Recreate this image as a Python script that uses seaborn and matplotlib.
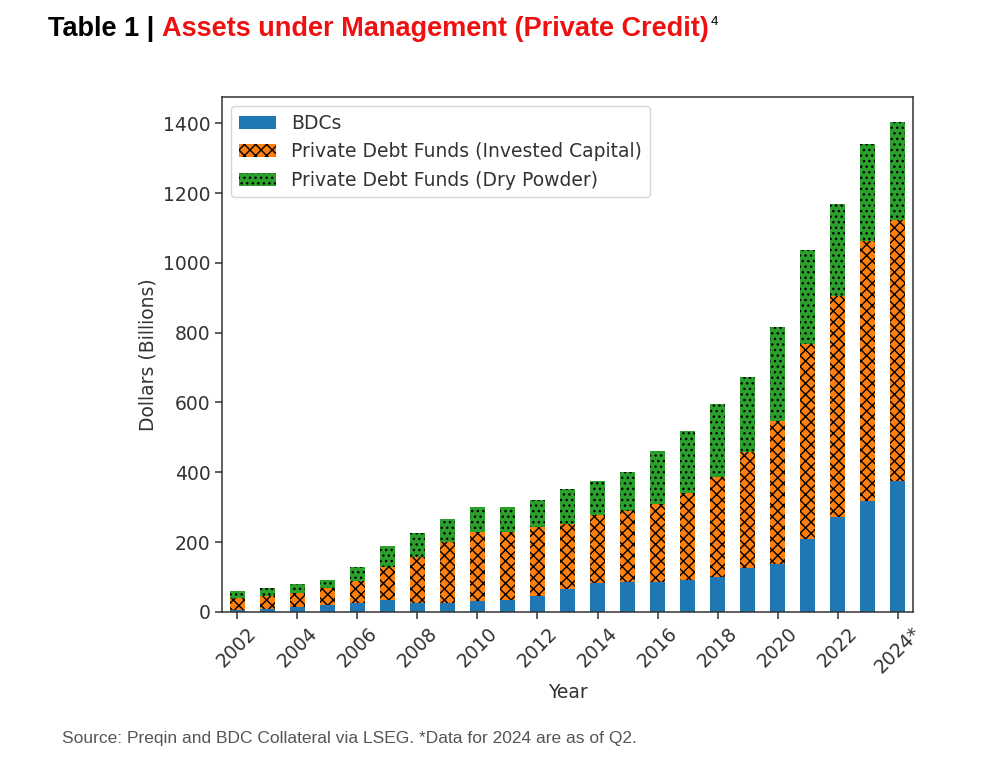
import numpy as np
import pandas as pd
import matplotlib
matplotlib.use("Agg")
import matplotlib.pyplot as plt
import seaborn as sns
from matplotlib.patches import Patch

# ---- data (Billions of dollars) ----
years = [str(y) for y in range(2002, 2025)]
tick_labels = ["2002", "2004", "2006", "2008", "2010", "2012", "2014",
               "2016", "2018", "2020", "2022", "2024*"]
bdcs = [5, 8, 15, 19, 27, 33, 27, 27, 31, 33, 46, 66, 84, 87, 87, 93, 101,
        125, 136, 208, 273, 319, 376]
invested = [34, 38, 38, 51, 62, 96, 131, 174, 199, 197, 198, 187, 195, 202,
            221, 248, 286, 333, 410, 559, 632, 743, 748]
dry_powder = [21, 24, 28, 23, 41, 60, 67, 64, 70, 70, 76, 100, 97, 111, 152,
              178, 208, 216, 271, 269, 263, 279, 279]
series_names = ["BDCs", "Private Debt Funds (Invested Capital)",
                "Private Debt Funds (Dry Powder)"]

df = pd.DataFrame({"Year": years, "BDCs": bdcs, "Invested": invested,
                   "Dry": dry_powder})
df["top_bdc"] = df["BDCs"]
df["top_inv"] = df["BDCs"] + df["Invested"]
df["top_dry"] = df["top_inv"] + df["Dry"]

sns.set_style("ticks")
plt.rcParams["hatch.linewidth"] = 1.0

FS = 13.5
c_blue, c_orange, c_green = "#1f77b4", "#ff7f0e", "#2ca02c"
txt_c = "#333333"

fig = plt.figure(figsize=(10, 7.59), dpi=100)
ax = fig.add_axes([0.222, 0.1937, 0.691, 0.6785])

common = dict(x="Year", data=df, ax=ax, width=0.5, saturation=1,
              edgecolor="black", linewidth=0, errorbar=None)
sns.barplot(y="top_dry", color=c_green, hatch="...", **common)
sns.barplot(y="top_inv", color=c_orange, hatch="xxx", **common)
sns.barplot(y="top_bdc", color=c_blue, **common)

ax.set_xlim(-0.5, len(years) - 0.5)
ax.set_ylim(0, 1475)
ax.set_yticks(range(0, 1401, 200))
ax.set_xticks(range(0, len(years), 2))
ax.set_xticklabels(tick_labels, rotation=45, ha="center")
ax.tick_params(labelsize=FS, colors=txt_c, length=4.8, width=1.1)
ax.set_xlabel("Year", fontsize=FS, color=txt_c)
ax.set_ylabel("Dollars (Billions)", fontsize=FS, color=txt_c)
for s in ax.spines.values():
    s.set_visible(True)
    s.set_color(txt_c)
    s.set_linewidth(1.1)

handles = [Patch(facecolor=c_blue, edgecolor="black", linewidth=0),
           Patch(facecolor=c_orange, edgecolor="black", linewidth=0, hatch="xxx"),
           Patch(facecolor=c_green, edgecolor="black", linewidth=0, hatch="...")]
leg = ax.legend(handles, series_names, loc="upper left", fontsize=FS,
                frameon=True, fancybox=True, framealpha=0.8, edgecolor="#cccccc")
for t in leg.get_texts():
    t.set_color(txt_c)

# ---- title with two colours ----
title_font = dict(family=["Liberation Sans", "DejaVu Sans"], fontweight="bold",
                  fontsize=19.5)
ty = 1 - 29 / 759
t1 = fig.text(0.048, ty, "Table 1 | ", color="black", va="center", **title_font)
r = fig.canvas.get_renderer()
bb = t1.get_window_extent(r)
t2 = fig.text(bb.x1 / fig.bbox.width, ty,
              "Assets under Management (Private Credit)",
              color="#ee1111", va="center", **title_font)
bb2 = t2.get_window_extent(r)
fig.text(bb2.x1 / fig.bbox.width + 0.002, 1 - 22 / 759, "4", color="black",
         va="center", family=["Liberation Sans", "DejaVu Sans"], fontsize=9.5)

fig.text(0.062, 1 - 738 / 759,
         "Source: Preqin and BDC Collateral via LSEG. *Data for 2024 are as of Q2.",
         color="#555555", va="center", family=["Liberation Sans", "DejaVu Sans"],
         fontsize=12.5)

fig.savefig("out.png", dpi=100)
